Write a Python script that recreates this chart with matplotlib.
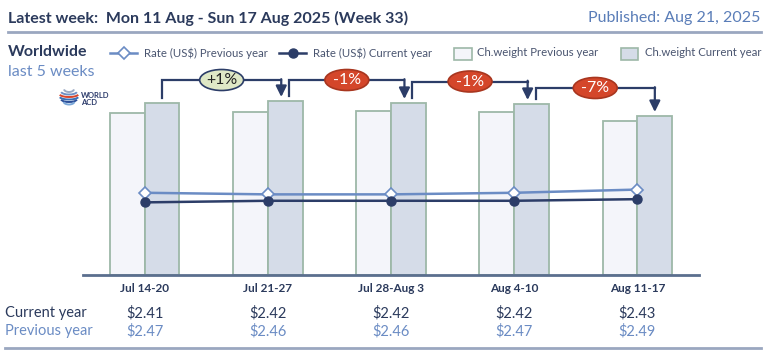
import matplotlib
matplotlib.use("Agg")
import matplotlib.pyplot as plt
from matplotlib.lines import Line2D
from matplotlib.patches import Ellipse, Arc, Rectangle
from matplotlib.transforms import blended_transform_factory

plt.rcParams['font.family'] = ['Lato', 'DejaVu Sans']

weeks = ["Jul 14-20", "Jul 21-27", "Jul 28-Aug 3", "Aug 4-10", "Aug 11-17"]
weight_prev = [162, 163, 164, 163, 154]
weight_cur = [172, 174, 172, 171, 159]
rate_prev = [2.47, 2.46, 2.46, 2.47, 2.49]
rate_cur = [2.41, 2.42, 2.42, 2.42, 2.43]
change_labels = ["+1%", "-1%", "-1%", "-7%"]

navy = "#2b3a5c"
dark_line = "#2c3d68"
light_blue = "#6b8cc4"
bar_edge = "#9db8a8"
prev_fill = "#f4f5fa"
cur_fill = "#d5dce8"
rule_col = "#9aa7c0"

W, H = 770, 355
fig = plt.figure(figsize=(7.7, 3.55), dpi=100)

def fx(px):
    return px / W

def fy(py):
    return 1 - py / H

ax = fig.add_axes([fx(83), fy(275), fx(699 - 83), (275 - 60) / H])
x = list(range(len(weeks)))
bw = 0.283
ax.bar(x, weight_prev, width=-bw, align='edge', color=prev_fill,
       edgecolor=bar_edge, linewidth=1.3, zorder=2)
ax.bar(x, weight_cur, width=bw, align='edge', color=cur_fill,
       edgecolor=bar_edge, linewidth=1.3, zorder=2)
ax.set_xlim(-0.5, 4.5)
ax.set_ylim(0, 215)
ax.set_yticks([])
for s in ["top", "left", "right"]:
    ax.spines[s].set_visible(False)
ax.spines["bottom"].set_color("#5b6f8e")
ax.spines["bottom"].set_linewidth(2)
ax.set_xticks(x)
ax.set_xticklabels(weeks, fontsize=8.5, fontweight='bold', color=navy)
ax.tick_params(axis='x', length=0, pad=6)

# rates on a second scale
ax2 = ax.twinx()
ax2.set_ylim(1.956, 3.30)
ax2.axis('off')
ax2.plot(x, rate_prev, color=light_blue, lw=1.8, marker='D', ms=6,
         mfc='white', mec=light_blue, mew=1.2, zorder=4)
ax2.plot(x, rate_cur, color=dark_line, lw=1.8, marker='o', ms=6.5,
         mfc=dark_line, mec=dark_line, zorder=4)

# week-over-week brackets
px = 1 / 123.5
for i, lab in enumerate(change_labels):
    x0 = i + bw / 2 + (0 if i == 0 else 4 * px)
    x1 = i + 1 + bw / 2 - (4 * px if i + 1 < len(change_labels) else 0)
    y0 = weight_cur[i] + 5
    y1 = weight_cur[i + 1] + 5
    top = (weight_cur[i] + weight_cur[i + 1]) / 2 + 22
    ax.plot([x0, x0, x1], [y0, top, top], color=dark_line, lw=1.6,
            clip_on=False, zorder=5, solid_joinstyle='miter')
    ax.annotate("", xy=(x1, y1 - 1), xytext=(x1, top + 0.8),
                arrowprops=dict(arrowstyle='-|>,head_length=0.65,head_width=0.32',
                                color=dark_line, lw=1.6, shrinkA=0, shrinkB=0),
                annotation_clip=False, zorder=5)
    xm = (x0 + x1) / 2
    if lab.startswith("+"):
        fc, ec, tc = "#dfe8c6", "#2c3d68", "#222222"
    else:
        fc, ec, tc = "#d4462a", "#a8361f", "white"
    ax.add_patch(Ellipse((xm, top), 44 * px, 21, facecolor=fc, edgecolor=ec,
                         lw=1.2, clip_on=False, zorder=6))
    ax.text(xm, top - 0.5, lab, ha='center', va='center', fontsize=11.5,
            color=tc, zorder=7)

# header
fig.text(fx(8), fy(18), "Latest week:  Mon 11 Aug - Sun 17 Aug 2025 (Week 33)",
         fontsize=11.5, fontweight='bold', color=navy, va='center')
fig.text(fx(760), fy(18), "Published: Aug 21, 2025", fontsize=11.5,
         color="#5a7db8", va='center', ha='right')
fig.add_artist(Line2D([fx(8), fx(761)], [fy(32), fy(32)], color=rule_col, lw=2))
fig.text(fx(8), fy(52), "Worldwide", fontsize=11.5, fontweight='bold',
         color=navy, va='center')
fig.text(fx(8), fy(72), "last 5 weeks", fontsize=11.5, color=light_blue,
         va='center')

# logo: striped globe
stripes = [(91, 10, "#9aa9c4"), (93.5, 16, "#6f8fc4"), (96, 19, "#d9452b"),
           (98.5, 19, "#3a6fb5"), (101, 16, "#2b4f9a"), (103.5, 11, "#7aa7d8")]
for yy, ww, c in stripes:
    fig.add_artist(Arc((fx(69), fy(yy - 2)), fx(ww), 6 / H, theta1=190,
                       theta2=350, color=c, lw=1.4,
                       transform=fig.transFigure))
fig.text(fx(81), fy(95), "WORLD", fontsize=5.5, fontweight='bold',
         color="#2b3a6a", va='center')
fig.text(fx(81), fy(102.5), "ACD", fontsize=5.5, fontweight='bold',
         color="#2b3a6a", va='center')

# legend, drawn by hand to match the spacing
leg_y = 53
leg_col = "#4a5570"
fig.add_artist(Line2D([fx(110), fx(137)], [fy(leg_y)] * 2, color=light_blue,
                      lw=1.8))
fig.add_artist(Line2D([fx(123.5)], [fy(leg_y)], marker='D', ms=6, mfc='white',
                      mec=light_blue, mew=1.2, color=light_blue))
fig.text(fx(144), fy(leg_y), "Rate (US$) Previous year", fontsize=8.2,
         color=leg_col, va='center')
fig.add_artist(Line2D([fx(279), fx(306)], [fy(leg_y)] * 2, color=dark_line,
                      lw=1.8))
fig.add_artist(Line2D([fx(292.5)], [fy(leg_y)], marker='o', ms=6.5,
                      mfc=dark_line, mec=dark_line, color=dark_line))
fig.text(fx(313), fy(leg_y), "Rate (US$) Current year", fontsize=8.2,
         color=leg_col, va='center')
fig.add_artist(Rectangle((fx(454), fy(60)), fx(18), 12 / H, facecolor=prev_fill,
                         edgecolor=bar_edge, lw=1.2, transform=fig.transFigure))
fig.text(fx(477), fy(leg_y), "Ch.weight Previous year", fontsize=8.2,
         color=leg_col, va='center')
fig.add_artist(Rectangle((fx(621), fy(60)), fx(17), 12 / H, facecolor=cur_fill,
                         edgecolor=bar_edge, lw=1.2, transform=fig.transFigure))
fig.text(fx(645), fy(leg_y), "Ch.weight Current year", fontsize=8.2,
         color=leg_col, va='center')

# value table
tr = blended_transform_factory(ax.transData, fig.transFigure)
fig.text(fx(5), fy(313), "Current year", fontsize=10.5, color=navy, va='center')
fig.text(fx(5), fy(331), "Previous year", fontsize=10.5, color=light_blue,
         va='center')
for i in x:
    ax.text(i, fy(313), f"${rate_cur[i]:.2f}", transform=tr, ha='center',
            va='center', fontsize=10.5, color=navy)
    ax.text(i, fy(331), f"${rate_prev[i]:.2f}", transform=tr, ha='center',
            va='center', fontsize=10.5, color=light_blue)
fig.add_artist(Line2D([fx(5), fx(761)], [fy(348), fy(348)], color=rule_col, lw=2))

fig.savefig("out.png", dpi=100)
